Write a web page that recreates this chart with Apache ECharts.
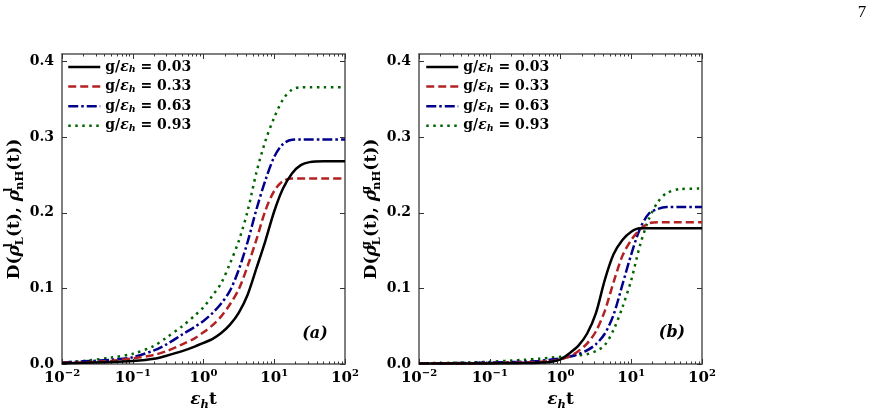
<!DOCTYPE html>
<html><head><meta charset="utf-8">
<script src="https://cdn.jsdelivr.net/npm/echarts@6/dist/echarts.min.js"></script>
<style>html,body{margin:0;padding:0;background:#fff}#c{width:875px;height:411px}</style>
</head><body><div id="c"></div>
<script>
// time values (epsilon_h t)
const times = [0.01, 0.02, 0.05, 0.1, 0.2, 0.3, 0.5, 0.75, 1, 1.33, 1.78, 2.37, 3.16, 4.22, 5.62, 7.5, 10, 13.3, 17.8, 23.7, 31.6, 50, 100];
const gLabels = ['0.03', '0.33', '0.63', '0.93'];

// panel (a): D(rho^l_L, rho^l_nH)
const aG003 = [0.001, 0.0015, 0.0025, 0.004, 0.007, 0.011, 0.017, 0.023, 0.028, 0.033, 0.041, 0.052, 0.068, 0.092, 0.127, 0.163, 0.202, 0.232, 0.252, 0.263, 0.267, 0.268, 0.268];
const aG033 = [0.0015, 0.002, 0.004, 0.0075, 0.012, 0.017, 0.026, 0.034, 0.042, 0.051, 0.063, 0.079, 0.099, 0.13, 0.165, 0.203, 0.229, 0.242, 0.2455, 0.2455, 0.2455, 0.2455, 0.2455];
const aG063 = [0.002, 0.0035, 0.0055, 0.009, 0.018, 0.026, 0.039, 0.049, 0.057, 0.067, 0.08, 0.097, 0.125, 0.162, 0.205, 0.243, 0.274, 0.291, 0.2965, 0.297, 0.297, 0.297, 0.297];
const aG093 = [0.002, 0.004, 0.0085, 0.0135, 0.024, 0.035, 0.05, 0.064, 0.075, 0.09, 0.107, 0.133, 0.163, 0.203, 0.254, 0.295, 0.326, 0.35, 0.363, 0.366, 0.366, 0.366, 0.366];

// panel (b): D(rho^g_L, rho^g_nH)
const bG003 = [0.0005, 0.0005, 0.0006, 0.0008, 0.001, 0.0012, 0.0018, 0.003, 0.006, 0.014, 0.024, 0.04, 0.067, 0.111, 0.145, 0.164, 0.175, 0.1795, 0.1795, 0.1795, 0.1795, 0.1795, 0.1795];
const bG033 = [0.0008, 0.0009, 0.001, 0.0013, 0.0017, 0.002, 0.003, 0.004, 0.006, 0.01, 0.017, 0.027, 0.043, 0.07, 0.108, 0.143, 0.164, 0.178, 0.186, 0.1876, 0.1876, 0.1876, 0.1876];
const bG063 = [0.001, 0.0011, 0.0013, 0.002, 0.0025, 0.003, 0.004, 0.006, 0.0075, 0.0095, 0.013, 0.018, 0.026, 0.04, 0.065, 0.105, 0.145, 0.179, 0.199, 0.205, 0.2075, 0.2075, 0.2075];
const bG093 = [0.001, 0.0013, 0.002, 0.003, 0.0045, 0.0055, 0.007, 0.0085, 0.0095, 0.0105, 0.0115, 0.013, 0.017, 0.025, 0.045, 0.075, 0.111, 0.157, 0.192, 0.214, 0.226, 0.2315, 0.232];

// tick positions
const minorTicks = [0.02, 0.03, 0.04, 0.05, 0.06, 0.07, 0.08, 0.09,
  0.2, 0.3, 0.4, 0.5, 0.6, 0.7, 0.8, 0.9,
  2, 3, 4, 5, 6, 7, 8, 9,
  20, 30, 40, 50, 60, 70, 80, 90];
const yTicks = [0, 0.1, 0.2, 0.3, 0.4];

const SERIF = '"DejaVu Serif", serif';
const colors = ['#000000', '#b22222', '#00008b', '#006400'];
const dashes = ['solid', [8, 4], [10, 3, 2.5, 3], [2.5, 4.5]];

function mk(size, extra) {
  return Object.assign({fontFamily: SERIF, fontWeight: 'bold', fontSize: size, color: '#000'}, extra || {});
}

// legend text
const legRich = {
  n: mk(14, {lineHeight: 16}),
  e: mk(14, {fontStyle: 'italic', lineHeight: 16}),
  h: mk(9.5, {fontStyle: 'italic', lineHeight: 10, verticalAlign: 'bottom'})
};
// axis names
const nameRich = {
  n: mk(17, {lineHeight: 23}),
  e: mk(17, {fontStyle: 'italic', lineHeight: 23}),
  h: mk(11.5, {fontStyle: 'italic', lineHeight: 12, verticalAlign: 'bottom'}),
  sp: mk(11.5, {lineHeight: 13, verticalAlign: 'top', width: 0.1}),
  sb: mk(11.5, {lineHeight: 12, verticalAlign: 'bottom'})
};
// tick labels 10^k
const tickRich = {
  b: mk(15, {lineHeight: 18, verticalAlign: 'bottom'}),
  s: mk(10, {lineHeight: 12, verticalAlign: 'top'})
};

const axisLineStyle = {color: '#555', width: 1.5};
const tickStyle = {color: '#333', width: 1};

function xAxesFor(gi) {
  const common = {type: 'log', logBase: 10, gridIndex: gi, min: 0.01, max: 100, splitLine: {show: false}};
  return [
    Object.assign({}, common, {
      position: 'bottom',
      axisLine: {show: true, lineStyle: axisLineStyle},
      axisTick: {show: true, inside: true, length: 5, lineStyle: tickStyle},
      axisLabel: {
        margin: 4,
        formatter: v => {
          const e = Math.round(Math.log10(v));
          return '{b|10}{s|' + (e < 0 ? '\u2212' : '') + Math.abs(e) + '}';
        },
        rich: tickRich
      },
      name: '{e|\u03b5}{h|h}{n|t}',
      nameLocation: 'middle',
      nameGap: 23,
      nameTextStyle: {rich: nameRich}
    }),
    Object.assign({}, common, {
      position: 'bottom',
      axisLine: {show: false},
      axisTick: {show: true, inside: true, length: 2.5, lineStyle: tickStyle, customValues: minorTicks},
      axisLabel: {show: false}
    }),
    Object.assign({}, common, {
      position: 'top',
      axisLine: {show: true, lineStyle: axisLineStyle},
      axisTick: {show: true, inside: true, length: 5, lineStyle: tickStyle},
      axisLabel: {show: false}
    }),
    Object.assign({}, common, {
      position: 'top',
      axisLine: {show: false},
      axisTick: {show: true, inside: true, length: 2.5, lineStyle: tickStyle, customValues: minorTicks},
      axisLabel: {show: false}
    })
  ];
}

function yAxesFor(gi, sup) {
  const common = {type: 'value', gridIndex: gi, min: 0, max: 0.41, interval: 0.1, splitLine: {show: false}};
  return [
    Object.assign({}, common, {
      position: 'left',
      axisLine: {show: true, lineStyle: axisLineStyle},
      axisTick: {show: true, inside: true, length: 5, lineStyle: tickStyle, customValues: yTicks},
      axisLabel: {
        margin: 8, customValues: yTicks,
        formatter: v => v.toFixed(1),
        fontFamily: SERIF, fontWeight: 'bold', fontSize: 14, color: '#000'
      },
      name: '{n|D(}{e|\u03c1}{sp|' + sup + '}{sb|L}{n|(t), }{e|\u03c1}{sp|' + sup + '}{sb|nH}{n|(t))}',
      nameLocation: 'middle',
      nameRotate: 90,
      nameGap: 33,
      nameTextStyle: {rich: nameRich}
    }),
    Object.assign({}, common, {
      position: 'right',
      axisLine: {show: true, lineStyle: axisLineStyle},
      axisTick: {show: true, inside: true, length: 5, lineStyle: tickStyle, customValues: yTicks},
      axisLabel: {show: false}
    })
  ];
}

function seriesFor(gi, arrays) {
  return arrays.map((arr, k) => ({
    type: 'line',
    name: gLabels[k],
    xAxisIndex: gi * 4,
    yAxisIndex: gi * 2,
    data: times.map((t, i) => [t, arr[i]]),
    symbol: 'none',
    smooth: 0.3,
    lineStyle: {color: colors[k], width: 2.5, type: dashes[k], cap: 'butt'},
    itemStyle: {color: colors[k]},
    z: 10 - k
  }));
}

function legendFor(left) {
  return {
    data: gLabels,
    orient: 'vertical',
    left: left,
    top: 60,
    padding: 0,
    itemWidth: 32,
    itemHeight: 14,
    itemGap: 4.6,
    selectedMode: false,
    itemStyle: {opacity: 0},
    lineStyle: {width: 2.5},
    formatter: name => '{n|g/}{e|\u03b5}{h|h}{n| = ' + name + '}',
    textStyle: {rich: legRich}
  };
}

const chart = echarts.init(document.getElementById('c'), null, {renderer: 'canvas'});
chart.setOption({
  animation: false,
  backgroundColor: '#fff',
  grid: [
    {left: 62, top: 54, width: 283, height: 310, containLabel: false, outerBoundsMode: 'none'},
    {left: 419, top: 54, width: 283, height: 310, containLabel: false, outerBoundsMode: 'none'}
  ],
  xAxis: xAxesFor(0).concat(xAxesFor(1)),
  yAxis: yAxesFor(0, 'l').concat(yAxesFor(1, 'g')),
  legend: [legendFor(67), legendFor(425)],
  series: seriesFor(0, [aG003, aG033, aG063, aG093]).concat(seriesFor(1, [bG003, bG033, bG063, bG093])),
  graphic: [
    {type: 'text', x: 315, y: 334, style: {text: '(a)', font: 'italic bold 16px "DejaVu Serif", serif', fill: '#000', align: 'center', verticalAlign: 'middle'}},
    {type: 'text', x: 672, y: 333, style: {text: '(b)', font: 'italic bold 16px "DejaVu Serif", serif', fill: '#000', align: 'center', verticalAlign: 'middle'}},
    {type: 'text', x: 862, y: 13, style: {text: '7', font: '17px "Liberation Serif", serif', fill: '#000', align: 'center', verticalAlign: 'middle'}}
  ]
});
</script>
</body></html>
